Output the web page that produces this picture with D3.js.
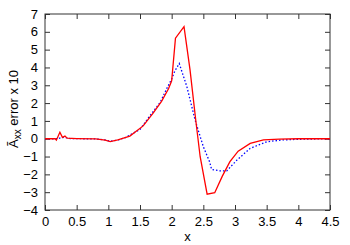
<!DOCTYPE html>
<html><head><meta charset="utf-8">
<script src="https://cdn.jsdelivr.net/npm/d3@7"></script>
<style>body{margin:0;background:#fff}svg{display:block}text{font-family:"Liberation Sans",Arial,sans-serif}</style>
</head><body><svg id="c" width="350" height="245"></svg>
<script>
const redX = [0,0.16,0.18,0.235,0.275,0.315,0.35,0.5,0.8,0.95,1.03,1.15,1.34,1.55,1.71,1.84,1.95,2.0,2.06,2.195,2.29,2.38,2.45,2.56,2.68,2.8,2.92,3.05,3.24,3.45,3.7,4.0,4.5];
const redY = [0,0,-0.08,0.36,0.08,0.15,0.03,0.01,-0.01,-0.08,-0.16,-0.06,0.15,0.72,1.45,2.1,2.8,3.25,5.64,6.29,3.86,1.05,-1.01,-3.11,-3.03,-2.1,-1.29,-0.7,-0.26,-0.07,-0.02,0,0];
const blueX = [0,0.2,0.25,0.3,0.4,0.8,0.95,1.03,1.15,1.26,1.5,1.66,1.82,1.92,2.0,2.05,2.12,2.24,2.37,2.5,2.6,2.63,2.75,2.87,3.03,3.24,3.5,3.75,4.0,4.5];
const blueY = [0,0,0.05,0.08,0.01,-0.01,-0.07,-0.14,-0.07,0.05,0.52,1.3,2.05,2.8,3.35,3.8,4.22,2.92,1.05,-0.45,-1.3,-1.72,-1.8,-1.8,-1.2,-0.54,-0.17,-0.07,-0.03,0];
const xTicks = [0,0.5,1,1.5,2,2.5,3,3.5,4,4.5];
const yTicks = [-4,-3,-2,-1,0,1,2,3,4,5,6,7];

const svg = d3.select("#c");
const L=45,R=330,T=14,B=210;
const x = d3.scaleLinear().domain([0,4.5]).range([L,R]);
const y = d3.scaleLinear().domain([-4,7]).range([B,T]);
const axCol="#333";
const fs=13;

const xb = svg.append("g").attr("transform",`translate(0,${B})`).call(d3.axisBottom(x).tickValues(xTicks).tickFormat(d3.format("")).tickSize(-5).tickPadding(7));
const xt = svg.append("g").attr("transform",`translate(0,${T})`).call(d3.axisTop(x).tickValues(xTicks).tickFormat("").tickSize(-5));
const yl = svg.append("g").attr("transform",`translate(${L},0)`).call(d3.axisLeft(y).tickValues(yTicks).tickFormat(d3.format("")).tickSize(-5).tickPadding(7));
const yr = svg.append("g").attr("transform",`translate(${R},0)`).call(d3.axisRight(y).tickValues(yTicks).tickFormat("").tickSize(-5));
[xb,xt,yl,yr].forEach(g=>{g.select(".domain").remove();g.selectAll("line").attr("stroke",axCol).attr("stroke-width",1);g.selectAll("text").attr("font-size",fs).attr("fill","#000").style("font-family","Liberation Sans, Arial, sans-serif");});
svg.append("rect").attr("x",L).attr("y",T).attr("width",R-L).attr("height",B-T).attr("fill","none").attr("stroke",axCol).attr("stroke-width",1);

const line = d3.line().x(d=>x(d[0])).y(d=>y(d[1]));
svg.append("path").datum(blueX.map((v,i)=>[v,blueY[i]])).attr("d",line).attr("fill","none").attr("stroke","#0000ff").attr("stroke-width",1.3).attr("stroke-dasharray","1.5,2");
svg.append("path").datum(redX.map((v,i)=>[v,redY[i]])).attr("d",line).attr("fill","none").attr("stroke","#ff0000").attr("stroke-width",1.3);

svg.append("text").attr("x",(L+R)/2).attr("y",241).attr("text-anchor","middle").attr("font-size",fs).text("x");
const yt = svg.append("text").attr("transform",`translate(18,109) rotate(-90)`).attr("text-anchor","middle").attr("font-size",fs);
yt.append("tspan").text("Ã");
yt.append("tspan").attr("dy",3).attr("font-size",10).text("xx");
yt.append("tspan").attr("dy",-3).text(" error x 10");
</script></body></html>
